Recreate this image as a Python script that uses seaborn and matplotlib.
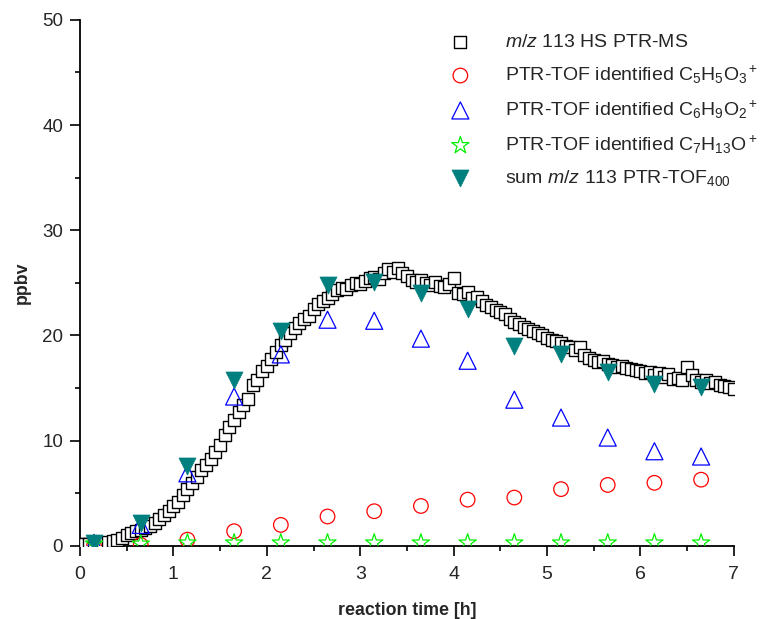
import numpy as np
import pandas as pd
import matplotlib
matplotlib.use("Agg")
import matplotlib.pyplot as plt
from matplotlib.ticker import MultipleLocator
import seaborn as sns

# HS PTR-MS trace of m/z 113 (sampled every 0.05 h)
hs_time = [round(0.05 * i, 2) for i in range(141)]
hs_ppbv = [
    0.2, 0.2, 0.2, 0.3, 0.3, 0.3, 0.4, 0.5, 0.6, 0.8,
    1.0, 1.2, 1.4, 1.5, 1.7, 1.9, 2.2, 2.6, 2.9, 3.3,
    3.8, 4.2, 4.8, 5.4, 6.0, 6.6, 7.2, 7.7, 8.3, 8.9,
    9.6, 10.5, 11.3, 12.0, 12.7, 13.4, 14.0, 15.3, 15.8, 16.6,
    17.1, 17.8, 18.4, 19.1, 19.6, 20.2, 20.7, 21.2, 21.6, 21.9,
    22.5, 23.0, 23.3, 23.6, 23.9, 24.3, 24.5, 24.4, 24.8, 25.0,
    24.9, 25.2, 25.5, 25.6, 25.4, 25.9, 26.3, 26.0, 26.4, 25.9,
    25.7, 25.3, 25.1, 25.3, 25.0, 24.8, 25.1, 24.7, 24.6, 24.9,
    25.5, 24.0, 23.9, 24.1, 23.6, 23.7, 23.3, 22.9, 22.7, 22.4,
    22.2, 22.0, 21.6, 21.3, 21.1, 20.8, 20.6, 20.4, 20.2, 20.0,
    19.8, 19.6, 19.5, 19.3, 19.0, 18.9, 18.6, 18.9, 18.1, 17.9,
    17.7, 17.5, 17.6, 17.3, 17.2, 17.0, 17.1, 16.9, 16.8, 16.7,
    16.6, 16.4, 16.5, 16.2, 16.4, 16.1, 16.3, 15.9, 16.0, 15.8,
    17.0, 16.2, 15.8, 15.6, 15.8, 15.5, 15.6, 15.3, 15.2, 15.1,
    14.9,
]

# PTR-TOF samples (every 0.5 h)
tof_time = [0.15, 0.65, 1.15, 1.65, 2.15, 2.65, 3.15, 3.65, 4.15, 4.65,
            5.15, 5.65, 6.15, 6.65]
c5h5o3 = [0.0, 0.1, 0.6, 1.4, 2.0, 2.8, 3.3, 3.8, 4.4, 4.6, 5.4, 5.8, 6.0, 6.3]
c6h9o2 = [0.3, 2.0, 6.9, 14.2, 18.2, 21.5, 21.4, 19.7, 17.6, 13.9, 12.2, 10.3, 9.0, 8.5]
c7h13o = [0.2, 0.2, 0.3, 0.3, 0.3, 0.3, 0.3, 0.3, 0.3, 0.3, 0.3, 0.3, 0.3, 0.3]
sum_tof = [0.3, 2.2, 7.6, 15.8, 20.4, 24.8, 25.1, 24.0, 22.5, 19.0, 18.2, 16.5, 15.4, 15.1]

labels = [
    r"$m/z$ 113 HS PTR-MS",
    r"PTR-TOF identified C$_5$H$_5$O$_3$$^+$",
    r"PTR-TOF identified C$_6$H$_9$O$_2$$^+$",
    r"PTR-TOF identified C$_7$H$_{13}$O$^+$",
    r"sum $m/z$ 113 PTR-TOF$_{400}$",
]

sns.set_style("ticks")
plt.rcParams["font.family"] = ["Liberation Sans", "DejaVu Sans"]
plt.rcParams["mathtext.fontset"] = "custom"
plt.rcParams["mathtext.rm"] = "Liberation Sans"
plt.rcParams["mathtext.it"] = "Liberation Sans:italic"
plt.rcParams["mathtext.bf"] = "Liberation Sans:bold"

hs = pd.DataFrame({"t": hs_time, "v": hs_ppbv})
tof = pd.DataFrame({"t": tof_time, "c5": c5h5o3, "c6": c6h9o2,
                    "c7": c7h13o, "sum": sum_tof})

fig = plt.figure(figsize=(7.62, 6.19), dpi=100)
ax = fig.add_axes([0.105, 0.118, 0.858, 0.850])

sns.scatterplot(data=hs, x="t", y="v", ax=ax, marker="s", s=75,
                facecolor="white", edgecolor="black", linewidth=1.0,
                label=labels[0], zorder=3)
sns.scatterplot(data=tof, x="t", y="c5", ax=ax, marker="o", s=110,
                facecolor="none", edgecolor="red", linewidth=0.9,
                label=labels[1], zorder=4)
sns.scatterplot(data=tof, x="t", y="c6", ax=ax, marker="^", s=150,
                facecolor="none", edgecolor="blue", linewidth=0.9,
                label=labels[2], zorder=4)
sns.scatterplot(data=tof, x="t", y="c7", ax=ax, marker="*", s=170,
                facecolor="none", edgecolor="#00ee00", linewidth=0.9,
                label=labels[3], zorder=5)
sns.scatterplot(data=tof, x="t", y="sum", ax=ax, marker="v", s=150,
                color="#007f7f", edgecolor="#007f7f", linewidth=0.5,
                label=labels[4], zorder=6)

ax.set_xlim(0, 7)
ax.set_ylim(0, 50)
ax.xaxis.set_major_locator(MultipleLocator(1))
ax.xaxis.set_minor_locator(MultipleLocator(0.5))
ax.yaxis.set_major_locator(MultipleLocator(10))
ax.yaxis.set_minor_locator(MultipleLocator(5))
ax.tick_params(which="major", direction="out", length=7.2, width=1.2,
               color="black")
ax.tick_params(which="minor", direction="out", length=3.6, width=1.2,
               color="black")
ax.tick_params(axis="x", which="major", labelsize=14, pad=7)
ax.tick_params(axis="y", which="major", labelsize=13.5, pad=5)
for side in ("top", "right"):
    ax.spines[side].set_visible(False)
for side in ("left", "bottom"):
    ax.spines[side].set_linewidth(1.3)
    ax.spines[side].set_color("black")

ax.set_xlabel("reaction time [h]", fontsize=12.8, fontweight="bold", labelpad=14)
ax.set_ylabel("ppbv", fontsize=12.8, fontweight="bold", labelpad=8)

leg = ax.legend(loc="upper left", bbox_to_anchor=(0.552, 0.989), frameon=False,
                fontsize=14, labelspacing=0.65, handletextpad=1.7,
                borderaxespad=0.0, handlelength=1.2)

fig.savefig("out.png", dpi=100)
